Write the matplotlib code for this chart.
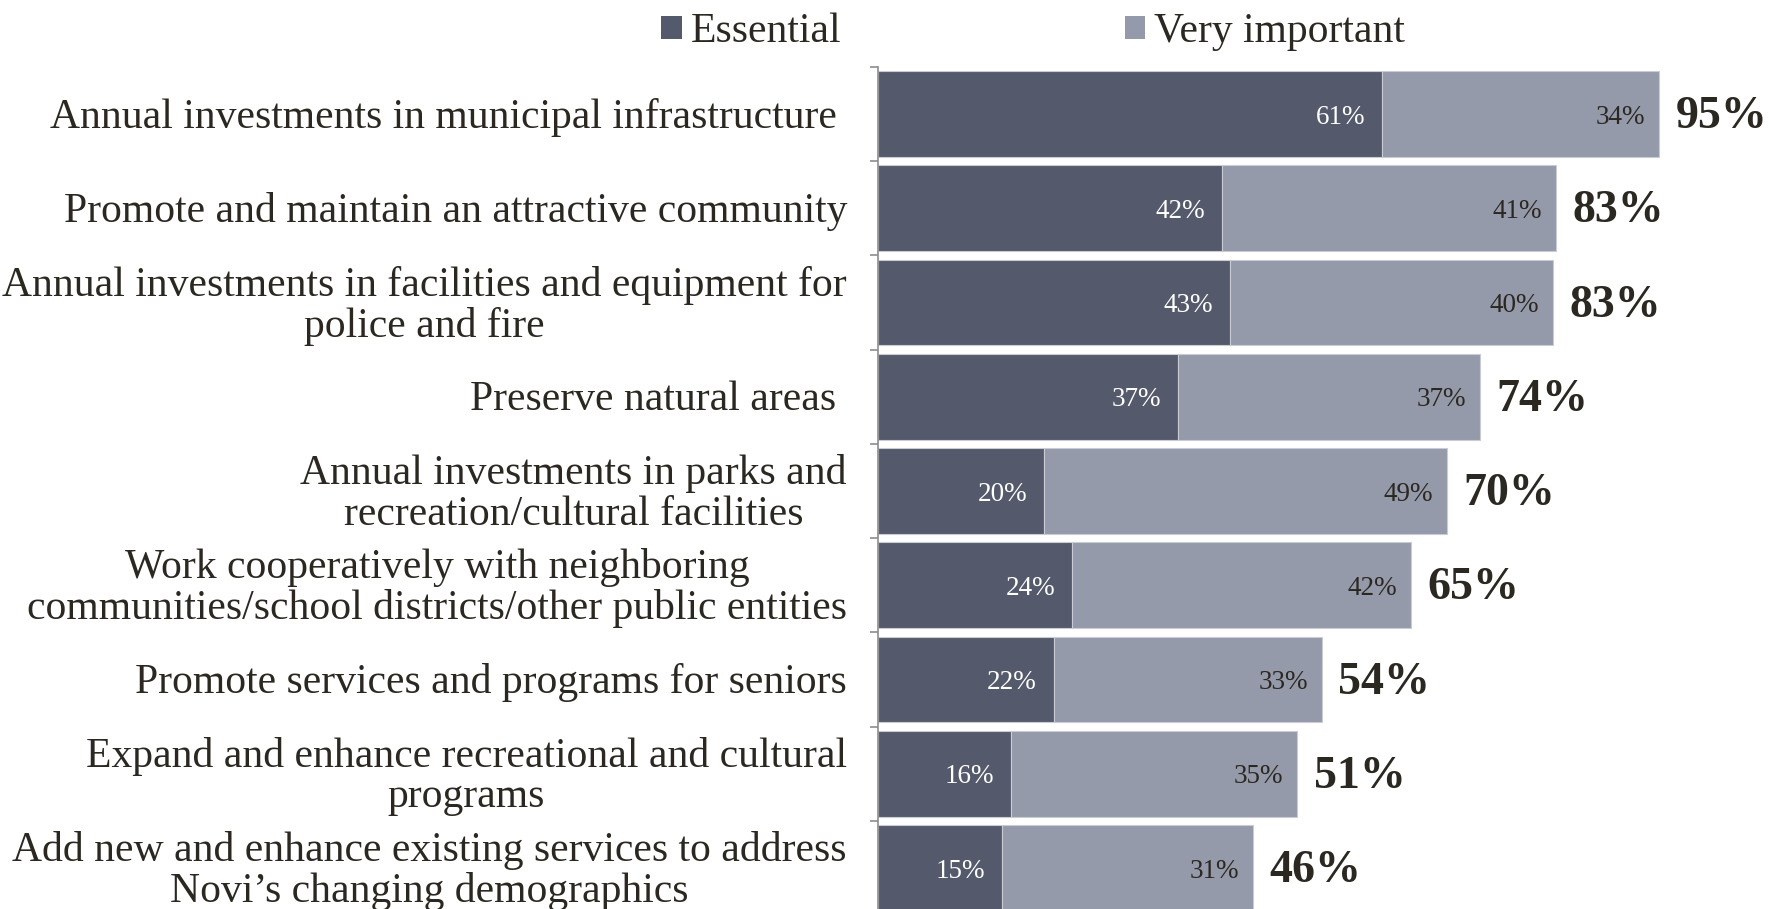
import matplotlib
matplotlib.use("Agg")
import matplotlib.pyplot as plt
from matplotlib.patches import Patch

categories = [
    "Annual investments in municipal infrastructure ",
    "Promote and maintain an attractive community",
    "Annual investments in facilities and equipment for\npolice and fire",
    "Preserve natural areas ",
    "Annual investments in parks and\nrecreation/cultural facilities",
    "Work cooperatively with neighboring\ncommunities/school districts/other public entities",
    "Promote services and programs for seniors",
    "Expand and enhance recreational and cultural\nprograms",
    "Add new and enhance existing services to address\nNovi\u2019s changing demographics",
]
essential = [61.3, 41.9, 42.8, 36.5, 20.3, 23.6, 21.4, 16.2, 15.1]
very_important = [33.7, 40.6, 39.3, 36.7, 48.9, 41.2, 32.6, 34.8, 30.5]
essential_labels = ["61%", "42%", "43%", "37%", "20%", "24%", "22%", "16%", "15%"]
important_labels = ["34%", "41%", "40%", "37%", "49%", "42%", "33%", "35%", "31%"]
total_labels = ["95%", "83%", "83%", "74%", "70%", "65%", "54%", "51%", "46%"]

C_ESS = "#545a6b"
C_VI = "#959aaa"
TXT = "#2b2821"
SERIF = ["Liberation Serif", "DejaVu Serif"]

plt.rcParams["font.family"] = SERIF

fig = plt.figure(figsize=(17.69, 9.09), dpi=100)
W, H = 1769, 909
ax_left = 877.5 / W
ax_top = 66.8
ax_bot = 915.0
ax = fig.add_axes([ax_left, (H - ax_bot) / H, 822.6 / W, (ax_bot - ax_top) / H])

y = list(range(len(categories)))
ax.barh(y, essential, height=0.91, color=C_ESS, edgecolor="#c9ccd4", linewidth=0.8)
ax.barh(y, very_important, left=essential, height=0.91, color=C_VI,
        edgecolor="#c9ccd4", linewidth=0.8)

ax.set_xlim(0, 100)
ax.set_ylim(8.5, -0.5)

DY = -2.3
for i in y:
    e = essential[i]
    t = essential[i] + very_important[i]
    ax.annotate(essential_labels[i], (e, i), xytext=(-12, DY), textcoords="offset points",
                ha="right", va="center", color="white", fontsize=19.5)
    ax.annotate(important_labels[i], (t, i), xytext=(-10, DY), textcoords="offset points",
                ha="right", va="center", color=TXT, fontsize=19.5)
    ax.annotate(total_labels[i], (t, i), xytext=(12, DY), textcoords="offset points",
                ha="left", va="center", color=TXT, fontsize=33, fontweight="bold")

# category labels
for i, lab in enumerate(categories):
    ax.annotate(lab, (0, i), xytext=(-22, DY), textcoords="offset points",
                ha="right", va="center", multialignment="center",
                color=TXT, fontsize=30, linespacing=1.06, annotation_clip=False)

# separator ticks on the axis
ax.set_yticks([])
ax.set_yticks([k - 0.5 for k in range(len(categories) + 1)], minor=True)
ax.tick_params(axis="y", which="minor", length=6, width=1.2, color="#8c8c8c", left=True)
ax.set_xticks([])
for s in ["top", "right", "bottom"]:
    ax.spines[s].set_visible(False)
ax.spines["left"].set_color("#8c8c8c")
ax.spines["left"].set_linewidth(1.2)

handles = [Patch(facecolor=C_ESS, edgecolor="none"), Patch(facecolor=C_VI, edgecolor="none")]
fig.legend(handles, ["Essential", "Very important"], loc="center",
           bbox_to_anchor=(1033 / W, 1 - 32 / H), ncol=2, frameon=False,
           fontsize=30, handlelength=0.5, handleheight=0.5, handletextpad=0.2,
           columnspacing=6.8, labelcolor=TXT)

fig.savefig("out.png", dpi=100)
